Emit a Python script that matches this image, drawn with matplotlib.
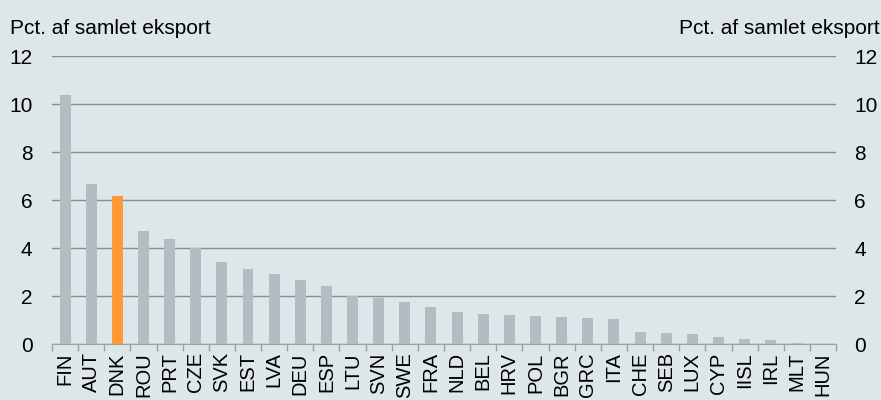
import numpy as np
import matplotlib
matplotlib.use("Agg")
import matplotlib.pyplot as plt

plt.rcParams['font.family'] = ['Liberation Sans', 'DejaVu Sans']

# Lande og andel af samlet eksport (pct.)
lande = ["FIN", "AUT", "DNK", "ROU", "PRT", "CZE", "SVK", "EST", "LVA", "DEU",
         "ESP", "LTU", "SVN", "SWE", "FRA", "NLD", "BEL", "HRV", "POL", "BGR",
         "GRC", "ITA", "CHE", "SEB", "LUX", "CYP", "IISL", "IRL", "MLT", "HUN"]
andel = [10.36, 6.65, 6.18, 4.69, 4.38, 3.99, 3.42, 3.13, 2.92, 2.67,
         2.42, 2.02, 1.92, 1.73, 1.53, 1.33, 1.26, 1.22, 1.18, 1.14,
         1.07, 1.05, 0.50, 0.46, 0.40, 0.28, 0.22, 0.17, 0.03, 0.02]
fremhaev = "DNK"
yticks = [0, 2, 4, 6, 8, 10, 12]

bg = "#dde6e9"
graa = "#b2bcc2"
orange = "#ff9933"

fig = plt.figure(figsize=(8.81, 4.0), dpi=100, facecolor=bg)
ax = fig.add_axes([0.059, 0.14, 0.89, 0.72], facecolor=bg)

x = np.arange(len(lande))
farver = [orange if l == fremhaev else graa for l in lande]
ax.bar(x, andel, width=0.42, color=farver, zorder=3)

ax.set_xlim(-0.5, len(lande) - 0.5)
ax.set_ylim(0, 12)
ax.set_yticks(yticks)
ax.set_yticklabels([str(t) for t in yticks], fontsize=15)
ax.yaxis.grid(True, color="#8c8c8c", linewidth=1.0, zorder=1)
ax.tick_params(axis="y", length=0, pad=14)

# landekoder lodret, små streger mellem søjlerne
ax.set_xticks(x)
ax.set_xticklabels(lande, rotation=90, fontsize=14.5)
ax.set_xticks(np.arange(-0.5, len(lande), 1), minor=True)
ax.tick_params(axis="x", which="major", length=0, pad=6)
ax.tick_params(axis="x", which="minor", length=5, color="#a0a0a0", width=1)

for s in ["top", "right", "left"]:
    ax.spines[s].set_visible(False)
ax.spines["bottom"].set_color("#a0a0a0")
ax.spines["bottom"].set_zorder(4)

# højre akse med samme skala
ax2 = ax.twinx()
ax2.set_ylim(0, 12)
ax2.set_yticks(yticks)
ax2.set_yticklabels([str(t) for t in yticks], fontsize=15)
ax2.tick_params(axis="y", length=0, pad=13)
for s in ax2.spines.values():
    s.set_visible(False)

fig.text(0.011, 0.905, "Pct. af samlet eksport", fontsize=15, ha="left", va="bottom")
fig.text(0.998, 0.905, "Pct. af samlet eksport", fontsize=15, ha="right", va="bottom")

fig.savefig("out.png", dpi=100, facecolor=bg)
